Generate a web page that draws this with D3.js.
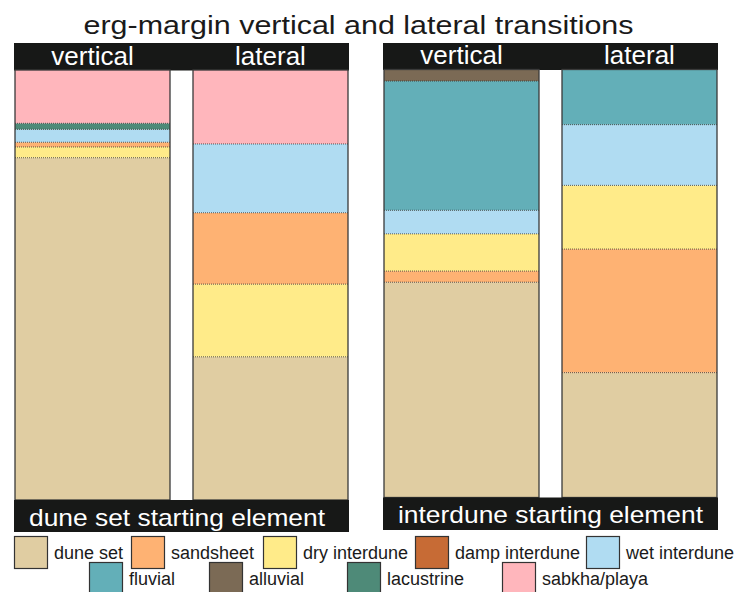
<!DOCTYPE html>
<html>
<head>
<meta charset="utf-8">
<script src="https://cdn.jsdelivr.net/npm/d3@7/dist/d3.min.js"></script>
<style>
  html, body { margin: 0; padding: 0; background: #ffffff; }
  svg { display: block; font-family: "Liberation Sans", Arial, Helvetica, sans-serif; }
</style>
</head>
<body>
<svg id="chart" width="743" height="592"></svg>
<script>
// ---------------- DATA ----------------
const titleText = "erg-margin vertical and lateral transitions";
const facies = ["dune set", "sandsheet", "dry interdune", "damp interdune", "wet interdune",
                "fluvial", "alluvial", "lacustrine", "sabkha/playa"];
const faciesColors = ["#e0cda2", "#feb273", "#ffeb89", "#c76b35", "#b0dcf2",
                      "#63afb8", "#7b6a55", "#4e8a78", "#ffb6bc"];
const columnNames = ["vertical", "lateral"];
const panelNames = ["dune set starting element", "interdune starting element"];

// stacking order bottom -> top, values in percent
const duneVerticalFacies = ["dune set", "dry interdune", "sandsheet", "wet interdune", "lacustrine", "sabkha/playa"];
const duneVerticalValues = [79.6, 2.5, 1.1, 3.0, 1.4, 12.4];
const duneLateralFacies = ["dune set", "dry interdune", "sandsheet", "wet interdune", "sabkha/playa"];
const duneLateralValues = [33.3, 16.9, 16.6, 16.0, 17.2];
const interduneVerticalFacies = ["dune set", "sandsheet", "dry interdune", "wet interdune", "fluvial", "alluvial"];
const interduneVerticalValues = [50.3, 2.6, 8.7, 5.5, 30.2, 2.7];
const interduneLateralFacies = ["dune set", "sandsheet", "dry interdune", "wet interdune", "fluvial"];
const interduneLateralValues = [29.2, 28.9, 14.9, 14.2, 12.9];

// ---------------- LAYOUT ----------------
const svg = d3.select("#chart");
const color = d3.scaleOrdinal().domain(facies).range(faciesColors);

const panelLayouts = [
  { x0: 14, x1: 349, headTop: 43, colTop: 70, colBottom: 500, footBottom: 532,
    headBase: 65, footBase: 526, footCx: 177, footLen: 296,
    columns: [[duneVerticalFacies, duneVerticalValues], [duneLateralFacies, duneLateralValues]] },
  { x0: 383, x1: 718, headTop: 43, colTop: 69.5, colBottom: 497.5, footBottom: 530,
    headBase: 64, footBase: 523, footCx: 550.5, footLen: 305,
    columns: [[interduneVerticalFacies, interduneVerticalValues], [interduneLateralFacies, interduneLateralValues]] }
];

// title
svg.append("text")
  .attr("x", 358.5).attr("y", 34)
  .attr("text-anchor", "middle")
  .attr("font-size", 26)
  .attr("fill", "#1a1a1a")
  .attr("textLength", 550)
  .attr("lengthAdjust", "spacingAndGlyphs")
  .text(titleText);

panelLayouts.forEach((P, pi) => {
  const g = svg.append("g");
  const xBand = d3.scaleBand().domain(columnNames)
    .range([P.x0 + 1, P.x1 - 1]).paddingInner(23 / 178).paddingOuter(0);

  // header bar
  g.append("rect")
    .attr("x", P.x0).attr("y", P.headTop)
    .attr("width", P.x1 - P.x0).attr("height", P.colTop - P.headTop + 0.5)
    .attr("fill", "#171817");

  P.columns.forEach(([fac, vals], ci) => {
    const name = columnNames[ci];
    const total = d3.sum(vals);
    const y = d3.scaleLinear().domain([0, total]).range([P.colBottom, P.colTop]);
    const cum = [0, ...d3.cumsum(vals)];
    const layers = fac.map((f, i) => ({ f, y0: cum[i], y1: cum[i + 1] }));
    const x = xBand(name), w = xBand.bandwidth();

    g.selectAll(null).data(layers).enter().append("rect")
      .attr("x", x).attr("width", w)
      .attr("y", d => y(d.y1)).attr("height", d => y(d.y0) - y(d.y1))
      .attr("fill", d => color(d.f));

    // dotted boundaries between layers
    g.selectAll(null).data(layers.slice(0, -1)).enter().append("line")
      .attr("x1", x).attr("x2", x + w)
      .attr("y1", d => y(d.y1)).attr("y2", d => y(d.y1))
      .attr("stroke", "#2a2a2a").attr("stroke-width", 1)
      .attr("stroke-dasharray", "1,1").attr("opacity", 0.75);

    // column outline
    g.append("rect")
      .attr("x", x).attr("y", P.colTop)
      .attr("width", w).attr("height", P.colBottom - P.colTop)
      .attr("fill", "none").attr("stroke", "#3a3a3a").attr("stroke-width", 1.3);

    // header label
    g.append("text")
      .attr("x", x + w / 2).attr("y", P.headBase)
      .attr("text-anchor", "middle").attr("font-size", 26)
      .attr("fill", "#ffffff")
      .text(name);
  });

  // footer bar
  g.append("rect")
    .attr("x", P.x0).attr("y", P.colBottom)
    .attr("width", P.x1 - P.x0).attr("height", P.footBottom - P.colBottom)
    .attr("fill", "#171817");
  g.append("text")
    .attr("x", P.footCx).attr("y", P.footBase)
    .attr("text-anchor", "middle").attr("font-size", 24)
    .attr("fill", "#ffffff")
    .attr("textLength", P.footLen).attr("lengthAdjust", "spacingAndGlyphs")
    .text(panelNames[pi]);
});

// ---------------- LEGEND ----------------
const legendSwatchX = [14, 131, 263, 415, 586, 89, 209, 347, 502];
const legendRowY = [536, 562];
const legendItems = facies.map((f, i) => ({ f, x: legendSwatchX[i], row: i < 5 ? 0 : 1 }));
const lg = svg.append("g");
const li = lg.selectAll("g").data(legendItems).enter().append("g")
  .attr("transform", d => `translate(${d.x},${legendRowY[d.row]})`);
li.append("rect")
  .attr("x", 0.5).attr("y", 0.5).attr("width", 33).attr("height", 32)
  .attr("fill", d => color(d.f))
  .attr("stroke", "#333333").attr("stroke-width", 1.2);
li.append("text")
  .attr("x", 40).attr("y", 23)
  .attr("font-size", 18).attr("fill", "#1a1a1a")
  .text(d => d.f);
</script>
</body>
</html>
